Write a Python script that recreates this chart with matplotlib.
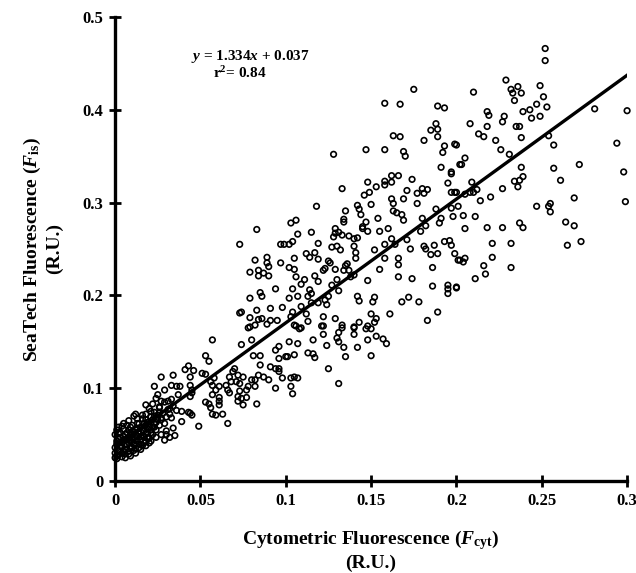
import numpy as np
import matplotlib.pyplot as plt

plt.rcParams['font.family'] = ['Liberation Serif', 'DejaVu Serif']
plt.rcParams['font.weight'] = 'bold'
plt.rcParams['mathtext.fontset'] = 'custom'
plt.rcParams['mathtext.rm'] = 'Liberation Serif:bold'
plt.rcParams['mathtext.it'] = 'Liberation Serif:bold:italic'
plt.rcParams['mathtext.bf'] = 'Liberation Serif:bold'

# fit reported on the chart
slope, intercept, r2 = 1.334, 0.037, 0.84

# dense cluster near the origin (estimated)
x_low = [0.001, 0.002, 0.002, 0.003, 0.003, 0.004, 0.004, 0.005, 0.005, 0.006, 0.006, 0.007, 0.007,
         0.008, 0.008, 0.009, 0.009, 0.010, 0.010, 0.011, 0.011, 0.012, 0.012, 0.013, 0.013, 0.014,
         0.014, 0.015, 0.015, 0.016, 0.016, 0.017, 0.017, 0.018, 0.018, 0.019, 0.019, 0.020, 0.020,
         0.021, 0.021, 0.022, 0.022, 0.023, 0.023, 0.024, 0.024, 0.025, 0.026, 0.026, 0.027, 0.028,
         0.029, 0.029, 0.030, 0.031, 0.032, 0.033, 0.034, 0.036, 0.000, 0.001, 0.003, 0.006, 0.009,
         0.012, 0.015, 0.018, 0.021, 0.024, 0.027, 0.030, 0.002, 0.005, 0.008, 0.011]
y_low = [0.027, 0.033, 0.045, 0.038, 0.052, 0.030, 0.041, 0.048, 0.056, 0.034, 0.044, 0.039, 0.052,
         0.029, 0.047, 0.036, 0.058, 0.042, 0.050, 0.033, 0.046, 0.040, 0.055, 0.048, 0.062, 0.036,
         0.051, 0.044, 0.058, 0.049, 0.067, 0.041, 0.054, 0.060, 0.072, 0.047, 0.056, 0.064, 0.078,
         0.052, 0.069, 0.058, 0.083, 0.062, 0.074, 0.055, 0.067, 0.071, 0.060, 0.079, 0.066, 0.073,
         0.062, 0.085, 0.069, 0.077, 0.072, 0.088, 0.081, 0.076, 0.025, 0.040, 0.047, 0.025, 0.027,
         0.030, 0.034, 0.038, 0.043, 0.047, 0.050, 0.054, 0.058, 0.062, 0.065, 0.070]

# more of the cluster core (estimated)
x_core = [0.000, 0.000, 0.000, 0.001, 0.001, 0.001, 0.002, 0.002, 0.003, 0.003, 0.004, 0.004, 0.004,
          0.005, 0.005, 0.006, 0.006, 0.006, 0.007, 0.007, 0.008, 0.008, 0.008, 0.009, 0.009, 0.010,
          0.010, 0.010, 0.011, 0.011, 0.012, 0.012, 0.013, 0.013, 0.013, 0.014, 0.014, 0.015, 0.015,
          0.016, 0.016, 0.016, 0.017, 0.017, 0.018, 0.018, 0.019, 0.019, 0.020, 0.020, 0.021, 0.021,
          0.022, 0.022, 0.023, 0.023, 0.024, 0.025, 0.026, 0.027]
y_core = [0.030, 0.036, 0.050, 0.024, 0.043, 0.055, 0.028, 0.051, 0.031, 0.042, 0.026, 0.036, 0.059,
          0.032, 0.044, 0.029, 0.040, 0.050, 0.046, 0.060, 0.032, 0.041, 0.055, 0.044, 0.052, 0.036,
          0.046, 0.060, 0.039, 0.053, 0.035, 0.049, 0.043, 0.056, 0.067, 0.040, 0.062, 0.048, 0.053,
          0.038, 0.055, 0.071, 0.047, 0.062, 0.043, 0.066, 0.052, 0.063, 0.046, 0.058, 0.055, 0.075,
          0.050, 0.066, 0.058, 0.070, 0.063, 0.066, 0.074, 0.068]

# x < 0.1, y < 0.17
x_a = [0.057, 0.078, 0.080, 0.074, 0.053, 0.055, 0.043, 0.041, 0.046, 0.027, 0.034, 0.044, 0.051,
       0.053, 0.044, 0.023, 0.033, 0.036, 0.038, 0.029, 0.045, 0.037, 0.025, 0.024, 0.027, 0.031,
       0.018, 0.012, 0.026, 0.032, 0.039, 0.039, 0.043, 0.045, 0.033, 0.034, 0.035, 0.032, 0.029,
       0.030, 0.020, 0.019, 0.049, 0.066, 0.057, 0.059, 0.063, 0.061, 0.061, 0.056, 0.053, 0.055,
       0.044, 0.044, 0.045, 0.057, 0.059, 0.061, 0.061, 0.056, 0.057, 0.058, 0.066, 0.067, 0.065,
       0.068, 0.067, 0.069, 0.070, 0.072, 0.071, 0.073, 0.075, 0.077, 0.073, 0.078, 0.072, 0.074,
       0.077, 0.072, 0.075, 0.082, 0.082, 0.080, 0.084, 0.087, 0.090, 0.091, 0.094, 0.096, 0.098,
       0.096, 0.100, 0.094, 0.096, 0.085, 0.081, 0.085, 0.083, 0.094, 0.096]
y_a = [0.152, 0.165, 0.152, 0.147, 0.135, 0.129, 0.124, 0.120, 0.119, 0.112, 0.114, 0.112, 0.116,
       0.115, 0.103, 0.102, 0.103, 0.102, 0.102, 0.098, 0.095, 0.093, 0.093, 0.089, 0.086, 0.086,
       0.082, 0.072, 0.080, 0.078, 0.075, 0.064, 0.074, 0.071, 0.068, 0.057, 0.049, 0.047, 0.044,
       0.050, 0.041, 0.046, 0.059, 0.062, 0.072, 0.071, 0.072, 0.082, 0.086, 0.079, 0.085, 0.083,
       0.073, 0.091, 0.098, 0.093, 0.098, 0.090, 0.102, 0.107, 0.103, 0.111, 0.098, 0.095, 0.103,
       0.107, 0.112, 0.118, 0.121, 0.114, 0.107, 0.105, 0.112, 0.098, 0.097, 0.102, 0.091, 0.089,
       0.090, 0.086, 0.082, 0.102, 0.109, 0.109, 0.114, 0.112, 0.109, 0.123, 0.121, 0.121, 0.111,
       0.132, 0.134, 0.141, 0.145, 0.135, 0.135, 0.125, 0.083, 0.100, 0.118]

# x < 0.1, y > 0.165
x_b = [0.083, 0.073, 0.097, 0.099, 0.082, 0.089, 0.089, 0.090, 0.097, 0.079, 0.084, 0.084, 0.087,
       0.090, 0.094, 0.085, 0.086, 0.079, 0.073, 0.074, 0.079, 0.083, 0.091, 0.098, 0.084, 0.086,
       0.091, 0.095, 0.089, 0.079, 0.082]
y_b = [0.271, 0.255, 0.255, 0.255, 0.238, 0.241, 0.235, 0.231, 0.235, 0.225, 0.227, 0.221, 0.224,
       0.221, 0.207, 0.203, 0.199, 0.197, 0.181, 0.182, 0.176, 0.184, 0.186, 0.187, 0.174, 0.175,
       0.173, 0.173, 0.169, 0.166, 0.168]

# 0.1 < x < 0.2, y < 0.17
x_c = [0.105, 0.108, 0.102, 0.107, 0.116, 0.121, 0.122, 0.131, 0.133, 0.130, 0.131, 0.134, 0.124,
       0.140, 0.140, 0.147, 0.150, 0.153, 0.148, 0.157, 0.159, 0.142, 0.150, 0.135, 0.101, 0.105,
       0.113, 0.116, 0.117, 0.125, 0.103, 0.105, 0.107, 0.103, 0.104, 0.131]
y_c = [0.168, 0.164, 0.150, 0.148, 0.152, 0.167, 0.158, 0.160, 0.165, 0.154, 0.150, 0.144, 0.146,
       0.165, 0.158, 0.164, 0.164, 0.156, 0.152, 0.153, 0.148, 0.144, 0.135, 0.134, 0.134, 0.136,
       0.138, 0.137, 0.133, 0.121, 0.111, 0.112, 0.111, 0.102, 0.094, 0.105]

# 0.1 < x < 0.2, 0.165 < y < 0.335
x_d = [0.133, 0.148, 0.153, 0.158, 0.158, 0.162, 0.166, 0.174, 0.162, 0.146, 0.149, 0.118, 0.103,
       0.106, 0.107, 0.115, 0.102, 0.104, 0.119, 0.112, 0.117, 0.114, 0.119, 0.105, 0.102, 0.105,
       0.106, 0.111, 0.109, 0.104, 0.102, 0.107, 0.114, 0.115, 0.113, 0.117, 0.119, 0.122, 0.123,
       0.125, 0.126, 0.129, 0.127, 0.130, 0.132, 0.128, 0.129, 0.129, 0.131, 0.133, 0.134, 0.134,
       0.135, 0.142, 0.143, 0.144, 0.150, 0.147, 0.145, 0.145, 0.148, 0.154, 0.155, 0.160, 0.162,
       0.163, 0.163, 0.165, 0.168, 0.169, 0.169, 0.171, 0.177, 0.177, 0.180, 0.183, 0.181, 0.195,
       0.197, 0.197, 0.199, 0.188, 0.197, 0.198, 0.191, 0.190, 0.180, 0.182, 0.179, 0.171, 0.162,
       0.164, 0.158, 0.152, 0.158, 0.166, 0.166, 0.155, 0.173, 0.181, 0.182, 0.185, 0.187, 0.189,
       0.193, 0.196, 0.197, 0.201, 0.186, 0.166, 0.174, 0.148, 0.141, 0.141, 0.140, 0.142, 0.140,
       0.137, 0.135, 0.136, 0.137, 0.134, 0.138, 0.140, 0.130, 0.127, 0.131, 0.125, 0.123, 0.124,
       0.119, 0.115, 0.109, 0.104, 0.103, 0.112, 0.106, 0.109, 0.113, 0.122, 0.122, 0.129, 0.133,
       0.140, 0.143, 0.148, 0.150, 0.152, 0.153, 0.142, 0.143, 0.151, 0.152, 0.161, 0.168, 0.172,
       0.178, 0.186, 0.195, 0.195, 0.195, 0.200, 0.189, 0.183]
y_d = [0.315, 0.322, 0.317, 0.319, 0.323, 0.329, 0.329, 0.325, 0.322, 0.308, 0.311, 0.296, 0.278,
       0.281, 0.266, 0.268, 0.255, 0.258, 0.256, 0.245, 0.246, 0.241, 0.239, 0.240, 0.230, 0.228,
       0.220, 0.217, 0.212, 0.207, 0.197, 0.199, 0.206, 0.202, 0.199, 0.221, 0.215, 0.227, 0.229,
       0.237, 0.235, 0.228, 0.252, 0.253, 0.249, 0.263, 0.267, 0.272, 0.268, 0.265, 0.282, 0.279,
       0.291, 0.297, 0.293, 0.287, 0.298, 0.279, 0.274, 0.272, 0.269, 0.283, 0.269, 0.272, 0.304,
       0.299, 0.291, 0.289, 0.287, 0.281, 0.304, 0.313, 0.299, 0.310, 0.315, 0.314, 0.310, 0.321,
       0.331, 0.311, 0.311, 0.293, 0.294, 0.285, 0.283, 0.278, 0.283, 0.275, 0.269, 0.260, 0.261,
       0.255, 0.255, 0.249, 0.240, 0.240, 0.233, 0.228, 0.250, 0.253, 0.250, 0.244, 0.254, 0.245,
       0.258, 0.259, 0.254, 0.238, 0.230, 0.220, 0.218, 0.216, 0.246, 0.240, 0.253, 0.262, 0.261,
       0.264, 0.232, 0.234, 0.227, 0.227, 0.220, 0.222, 0.217, 0.211, 0.205, 0.199, 0.195, 0.190,
       0.192, 0.192, 0.188, 0.182, 0.177, 0.180, 0.167, 0.165, 0.172, 0.177, 0.167, 0.175, 0.168,
       0.166, 0.171, 0.167, 0.180, 0.171, 0.175, 0.199, 0.194, 0.193, 0.198, 0.180, 0.193, 0.198,
       0.193, 0.210, 0.211, 0.207, 0.202, 0.209, 0.182, 0.173]

# x > 0.2, y < 0.335
x_e = [0.209, 0.200, 0.205, 0.208, 0.210, 0.212, 0.214, 0.220, 0.227, 0.234, 0.237, 0.239, 0.236,
       0.261, 0.298, 0.299, 0.269, 0.247, 0.255, 0.254, 0.255, 0.201, 0.204, 0.211, 0.205, 0.218,
       0.227, 0.237, 0.239, 0.264, 0.269, 0.273, 0.265, 0.221, 0.232, 0.199, 0.202, 0.205, 0.204,
       0.221, 0.216, 0.217, 0.211, 0.232, 0.200]
y_e = [0.322, 0.311, 0.309, 0.311, 0.311, 0.314, 0.302, 0.306, 0.315, 0.323, 0.324, 0.328, 0.317,
       0.324, 0.333, 0.301, 0.305, 0.296, 0.299, 0.296, 0.290, 0.296, 0.286, 0.285, 0.272, 0.273,
       0.273, 0.278, 0.273, 0.279, 0.275, 0.258, 0.254, 0.256, 0.256, 0.245, 0.238, 0.240, 0.236,
       0.241, 0.232, 0.223, 0.218, 0.230, 0.208]

# y > 0.335
x_f = [0.252, 0.252, 0.229, 0.210, 0.232, 0.236, 0.233, 0.238, 0.234, 0.249, 0.251, 0.253, 0.247,
       0.243, 0.239, 0.244, 0.249, 0.218, 0.219, 0.228, 0.227, 0.208, 0.218, 0.235, 0.237, 0.213,
       0.216, 0.223, 0.238, 0.254, 0.257, 0.200, 0.226, 0.231, 0.205, 0.203, 0.238, 0.257, 0.272,
       0.281, 0.300, 0.294, 0.175, 0.158, 0.167, 0.189, 0.193, 0.188, 0.185, 0.189, 0.189, 0.181,
       0.163, 0.167, 0.128, 0.147, 0.158, 0.169, 0.170, 0.193, 0.192, 0.199, 0.191, 0.197, 0.202]
y_f = [0.466, 0.453, 0.432, 0.419, 0.422, 0.425, 0.418, 0.418, 0.410, 0.426, 0.414, 0.403, 0.406,
       0.400, 0.398, 0.391, 0.393, 0.398, 0.394, 0.393, 0.387, 0.385, 0.382, 0.382, 0.382, 0.374,
       0.371, 0.367, 0.370, 0.372, 0.362, 0.362, 0.357, 0.352, 0.348, 0.341, 0.338, 0.337, 0.341,
       0.401, 0.399, 0.364, 0.422, 0.407, 0.406, 0.404, 0.402, 0.385, 0.378, 0.379, 0.371, 0.367,
       0.372, 0.371, 0.352, 0.357, 0.357, 0.355, 0.350, 0.361, 0.354, 0.363, 0.338, 0.333, 0.341]

x_cyt = np.concatenate([x_low, x_core, x_a, x_b, x_c, x_d, x_e, x_f])
y_sea = np.concatenate([y_low, y_core, y_a, y_b, y_c, y_d, y_e, y_f])

fig = plt.figure(figsize=(6.36, 5.73), dpi=100)
ax = fig.add_axes([0.181, 0.1606, 0.805, 0.8098])

ax.scatter(x_cyt, y_sea, s=16, facecolors='none', edgecolors='black', linewidths=1.2, clip_on=False, zorder=3)

xf = np.array([0.0, 0.3])
ax.plot(xf, slope * xf + intercept, color='black', lw=2.4, zorder=4)

ax.set_xlim(0, 0.3)
ax.set_ylim(0, 0.5)
ax.set_xticks([0, 0.05, 0.1, 0.15, 0.2, 0.25, 0.3])
ax.set_xticklabels(['0', '0.05', '0.1', '0.15', '0.2', '0.25', '0.3'])
ax.set_yticks([0, 0.1, 0.2, 0.3, 0.4, 0.5])
ax.set_yticklabels(['0', '0.1', '0.2', '0.3', '0.4', '0.5'])
for s in ['top', 'right']:
    ax.spines[s].set_visible(False)
for s in ['left', 'bottom']:
    ax.spines[s].set_linewidth(2.4)
ax.tick_params(direction='inout', length=9, width=2, labelsize=12, pad=4)

ax.set_xlabel('Cytometric Fluorescence ($F_{\\mathrm{cyt}}$)\n(R.U.)', fontsize=14, fontweight='bold', labelpad=14)
ax.set_ylabel('SeaTech Fluorescence ($F_{\\mathrm{is}}$)\n(R.U.)', fontsize=14, fontweight='bold', labelpad=14)

ax.text(0.079, 0.457, '$y$ = %.3f$x$ + %.3f' % (slope, intercept), fontsize=11, ha='center', va='center')
ax.text(0.073, 0.440, 'r$^2$= %.2f' % r2, fontsize=11, ha='center', va='center')

fig.savefig('out.png', dpi=100)
